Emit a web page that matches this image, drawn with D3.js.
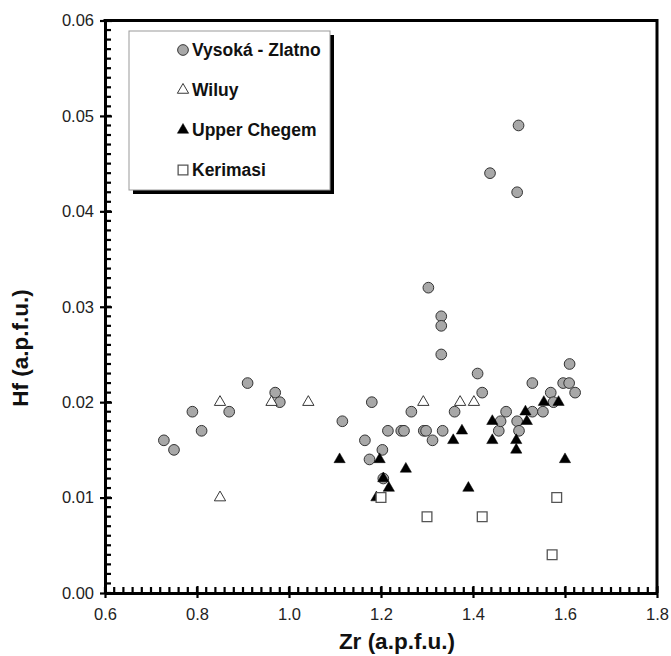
<!DOCTYPE html>
<html>
<head>
<meta charset="utf-8">
<script src="https://cdn.jsdelivr.net/npm/d3@7"></script>
<style>
  body { margin: 0; background: #fff; }
  text { font-family: "Liberation Sans", Arial, sans-serif; }
</style>
</head>
<body>
<div class="Scatter-Chart"></div>
<script>
// Data: [Zr, Hf] in a.p.f.u.
const vysokaZlatno = [
  [0.728, 0.016], [0.75, 0.015], [0.79, 0.019], [0.81, 0.017], [0.87, 0.019],
  [0.91, 0.022], [0.97, 0.021], [0.98, 0.020], [1.116, 0.018], [1.165, 0.016],
  [1.175, 0.014], [1.18, 0.020], [1.203, 0.015], [1.205, 0.012], [1.215, 0.017],
  [1.244, 0.017], [1.25, 0.017], [1.266, 0.019], [1.293, 0.017], [1.298, 0.017],
  [1.303, 0.032], [1.312, 0.016], [1.331, 0.029], [1.331, 0.028], [1.331, 0.025],
  [1.334, 0.017], [1.36, 0.019], [1.41, 0.023], [1.42, 0.021], [1.437, 0.044],
  [1.456, 0.017], [1.46, 0.018], [1.472, 0.019], [1.496, 0.042], [1.499, 0.049],
  [1.496, 0.018], [1.50, 0.017], [1.529, 0.022], [1.529, 0.019], [1.552, 0.019],
  [1.569, 0.021], [1.575, 0.020], [1.596, 0.022], [1.609, 0.022], [1.61, 0.024],
  [1.622, 0.021]
];
const wiluy = [
  [0.85, 0.020], [0.85, 0.010], [0.962, 0.020], [1.042, 0.020],
  [1.292, 0.020], [1.372, 0.020], [1.402, 0.020]
];
const upperChegem = [
  [1.11, 0.014], [1.19, 0.010], [1.197, 0.014], [1.205, 0.012], [1.217, 0.011],
  [1.254, 0.013], [1.357, 0.016], [1.376, 0.017], [1.39, 0.011], [1.442, 0.018],
  [1.442, 0.016], [1.494, 0.016], [1.494, 0.015], [1.514, 0.019], [1.517, 0.018],
  [1.554, 0.020], [1.586, 0.020], [1.60, 0.014]
];
const kerimasi = [
  [1.20, 0.010], [1.30, 0.008], [1.42, 0.008], [1.582, 0.010], [1.572, 0.004]
];

const seriesNames = ["Vysoká - Zlatno", "Wiluy", "Upper Chegem", "Kerimasi"];
const xTicks = [0.6, 0.8, 1.0, 1.2, 1.4, 1.6, 1.8];
const yTicks = [0, 0.01, 0.02, 0.03, 0.04, 0.05, 0.06];
const xMinor = d3.range(0, 61).map(i => +(0.6 + i * 0.02).toFixed(2));
const yMinor = d3.range(0, 61).map(i => +(i * 0.001).toFixed(3));

// Dimensions
const width = 671;
const height = 656;
const margin = { top: 20.5, right: 14, bottom: 63, left: 105 };
const innerWidth = width - margin.left - margin.right;
const innerHeight = height - margin.top - margin.bottom;

const svg = d3.select(".Scatter-Chart")
  .append("svg")
  .attr("width", width)
  .attr("height", height);

const chart = svg.append("g")
  .attr("transform", `translate(${margin.left}, ${margin.top})`);

// Scales
const xScale = d3.scaleLinear().domain([0.6, 1.8]).range([0, innerWidth]);
const yScale = d3.scaleLinear().domain([0, 0.06]).range([innerHeight, 0]);

// Minor ticks, pointing into the plot
chart.append("g")
  .selectAll("rect")
  .data(xMinor)
  .join("rect")
  .attr("x", d => xScale(d) - 1.1).attr("y", innerHeight - 6)
  .attr("width", 2.2).attr("height", 6)
  .attr("fill", "#000");
chart.append("g")
  .selectAll("rect")
  .data(yMinor)
  .join("rect")
  .attr("x", 0).attr("y", d => yScale(d) - 1.1)
  .attr("width", 6).attr("height", 2.2)
  .attr("fill", "#000");

// Major axes with labels
const xAxis = chart.append("g")
  .attr("transform", `translate(0, ${innerHeight})`)
  .call(d3.axisBottom(xScale).tickValues(xTicks).tickFormat(d3.format(".1f"))
    .tickSizeInner(5).tickSizeOuter(0).tickPadding(10));

const yAxis = chart.append("g")
  .call(d3.axisLeft(yScale).tickValues(yTicks).tickFormat(d3.format(".2f"))
    .tickSizeInner(5).tickSizeOuter(0).tickPadding(6));

[xAxis, yAxis].forEach(ax => {
  ax.select(".domain").attr("stroke", "#000").attr("stroke-width", 3);
  ax.selectAll(".tick line").attr("stroke", "#000").attr("stroke-width", 2.2);
  ax.selectAll(".tick text").attr("font-size", 16.5).attr("fill", "#222")
    .style("font-family", "'Liberation Sans', Arial, sans-serif");
});
// major ticks also reach inward
xAxis.selectAll(".tick").append("line").attr("y1", 0).attr("y2", -7)
  .attr("stroke", "#000").attr("stroke-width", 2.2);
yAxis.selectAll(".tick").append("line").attr("x1", 0).attr("x2", 7)
  .attr("stroke", "#000").attr("stroke-width", 2.2);

// Top and right frame lines
chart.append("path")
  .attr("d", `M-1.5,0H${innerWidth}V${innerHeight}`)
  .attr("fill", "none")
  .attr("stroke", "#000").attr("stroke-width", 3);

// Marker symbols
const circleSym = d3.symbol().type(d3.symbolCircle).size(90);
const triSym = d3.symbol().type(d3.symbolTriangle).size(55);
const sqSym = d3.symbol().type(d3.symbolSquare).size(95);

const styles = [
  { data: vysokaZlatno, sym: circleSym, fill: "#a8a8a8", stroke: "#333", sw: 1 },
  { data: wiluy, sym: triSym, fill: "#fff", stroke: "#222", sw: 0.9 },
  { data: upperChegem, sym: triSym, fill: "#000", stroke: "#000", sw: 0.5 },
  { data: kerimasi, sym: sqSym, fill: "#fff", stroke: "#555", sw: 1.3 }
];

styles.forEach(s => {
  chart.append("g")
    .selectAll("path")
    .data(s.data)
    .join("path")
    .attr("d", s.sym)
    .attr("transform", d => `translate(${xScale(d[0])}, ${yScale(d[1])})`)
    .attr("fill", s.fill)
    .attr("stroke", s.stroke)
    .attr("stroke-width", s.sw);
});

// Legend with shadow
const legend = svg.append("g").attr("transform", "translate(129, 31)");
legend.append("rect")
  .attr("x", 4).attr("y", 4).attr("width", 201).attr("height", 159)
  .attr("fill", "#000");
legend.append("rect")
  .attr("x", 0).attr("y", 0).attr("width", 201).attr("height", 159)
  .attr("fill", "#fff").attr("stroke", "#999").attr("stroke-width", 1);

seriesNames.forEach((name, i) => {
  const s = styles[i];
  const g = legend.append("g").attr("transform", `translate(0, ${19 + i * 40})`);
  g.append("path")
    .attr("d", s.sym)
    .attr("transform", "translate(54, 0)")
    .attr("fill", s.fill).attr("stroke", s.stroke).attr("stroke-width", s.sw);
  g.append("text")
    .attr("x", 63).attr("y", 6)
    .attr("font-size", 17.5).attr("font-weight", "bold")
    .attr("fill", "#111")
    .text(name);
});

// Axis titles
svg.append("text")
  .attr("x", margin.left + innerWidth / 2 + 16)
  .attr("y", 649)
  .attr("text-anchor", "middle")
  .attr("font-size", 22.5).attr("font-weight", "bold")
  .attr("fill", "#111")
  .text("Zr (a.p.f.u.)");

svg.append("text")
  .attr("transform", "translate(28, 348) rotate(-90)")
  .attr("text-anchor", "middle")
  .attr("font-size", 22.5).attr("font-weight", "bold")
  .attr("fill", "#111")
  .text("Hf (a.p.f.u.)");
</script>
</body>
</html>
